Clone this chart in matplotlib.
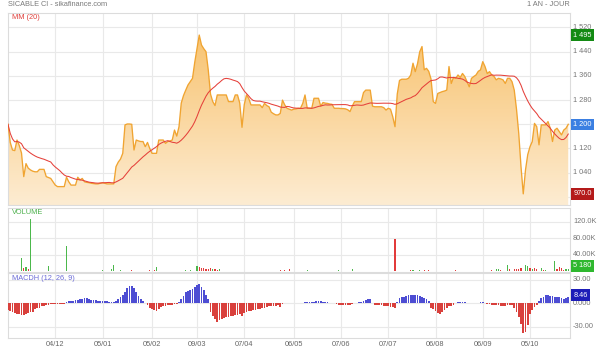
import numpy as np
import matplotlib
matplotlib.use('Agg')
import matplotlib.pyplot as plt
from matplotlib.patches import PathPatch
import pandas as pd

plt.rcParams['font.family'] = ['Liberation Sans', 'DejaVu Sans']

# ---------------- data ----------------
price = [
    1200, 1140, 1115, 1113, 1148, 1130, 1105, 1027, 1070, 1055,
    1049, 1045, 1043, 1043, 1051, 1051, 1051, 1027, 1024, 1021,
    1010, 999, 994, 994, 994, 994, 1025, 1010, 999, 999,
    999, 1025, 1016, 1021, 1010, 1008, 1007, 1005, 1004, 1003,
    1003, 1005, 1007, 1005, 1003, 1003, 1003, 1003, 1060, 1075,
    1085, 1104, 1198, 1201, 1201, 1200, 1115, 1148, 1145, 1143,
    1143, 1126, 1140, 1120, 1104, 1104, 1104, 1148, 1148, 1148,
    1137, 1143, 1145, 1148, 1181, 1161, 1192, 1270, 1295, 1313,
    1330, 1341, 1352, 1405, 1450, 1495, 1462, 1450, 1440, 1380,
    1300, 1275, 1262, 1297, 1297, 1297, 1297, 1297, 1275, 1275,
    1275, 1297, 1297, 1270, 1190, 1265, 1297, 1285, 1264, 1264,
    1264, 1264, 1264, 1255, 1269, 1262, 1258, 1240, 1235, 1231,
    1231, 1236, 1280, 1264, 1253, 1250, 1247, 1250, 1251, 1253,
    1253, 1269, 1297, 1253, 1253, 1253, 1286, 1286, 1286, 1260,
    1272, 1270, 1269, 1267, 1266, 1253, 1253, 1253, 1252, 1252,
    1251, 1248, 1242, 1260, 1275, 1275, 1275, 1275, 1305, 1313,
    1313, 1313, 1260, 1258, 1258, 1258, 1258, 1255, 1247, 1253,
    1250, 1225, 1192, 1300, 1345, 1349, 1349, 1349, 1352, 1363,
    1402, 1374, 1400, 1440, 1457, 1380, 1385, 1375, 1350, 1275,
    1269, 1302, 1305, 1308, 1310, 1313, 1391, 1335, 1355, 1352,
    1363, 1355, 1368, 1358, 1341, 1324, 1352, 1358, 1363, 1375,
    1380, 1407, 1391, 1368, 1374, 1363, 1358, 1347, 1352, 1350,
    1347, 1335, 1352, 1352, 1341, 1313, 1250, 1170, 1060, 970,
    1049, 1100, 1126, 1143, 1203, 1192, 1132, 1198, 1198, 1198,
    1209, 1187, 1143, 1181, 1187, 1176, 1165, 1181, 1187, 1200,
]

macdh = [
    -8.6, -10, -11.5, -12.9, -13.4, -13.7, -15, -15, -14.2, -12.9,
    -11.8, -10.7, -7.7, -6.5, -5.6, -3.9, -3, -2.6, -1.7, -1.5,
    -1.3, -0.6, -0.5, -0.4, -0.3, -0.3, 2.1, 2.5, 2.8, 3,
    3.6, 4.5, 5.1, 6, 6.6, 6.9, 5.8, 4.8, 4.3, 3.8,
    3.5, 3.2, 3, 2.8, 2.6, 2.2, 1.8, 1.8, 3.4, 5.5,
    8.5, 10.7, 14, 19.3, 22.3, 22, 20, 15, 9.5, 6,
    3.4, 1, -2.5, -5.6, -7.2, -8.8, -9.9, -7.5, -5, -3.4,
    -3.2, -2.8, -2.5, -1.9, -0.9, -0.4, 2, 5, 10, 14,
    15.5, 17, 18.5, 20.5, 23, 24.9, 21, 17, 11, 5,
    -11, -16, -20, -23.6, -22, -20.5, -19.3, -18, -17.5, -17,
    -16.3, -15.5, -14.5, -13.7, -16.3, -12.5, -11, -10, -9.4, -8.8,
    -8.2, -7.7, -6.8, -6.2, -5.6, -4.6, -3.9, -3.4, -3.1, -2.9,
    -2.6, -4.3, -0.9, 0.9, 0.9, 0.9, 0.9, 0.9, 0.9, 0.9,
    0.9, 0.9, 1.3, 1.3, 1.5, 1.8, 2.1, 2.5, 3, 2.6,
    2.1, 1.7, 1.3, 0.4, 0.2, 0.1, -0.5, -1.7, -1.7, -1.7,
    -1.7, -1.7, -1.7, -0.9, 0.5, 0.9, 1.7, 2.2, 2.6, 4.5,
    5.5, 6, 1, -2.1, -2.3, -2.6, -2.8, -3.1, -3.4, -3.8,
    -4.3, -5, -6.4, 2.1, 6.4, 7.5, 8.6, 9.9, 10.1, 10.3,
    10.3, 10.5, 10.7, 9.9, 7.7, 6.4, 5, 3, -6.4, -8,
    -10, -12.5, -13.7, -11, -9, -6.4, -4, -3, -2, 0.9,
    1.3, 1.8, 2.1, 1.7, 1, 0.4, 0.1, 0.1, 0.1, 0.5,
    1.8, 1.5, 0.5, -0.5, -1.5, -1.8, -2.2, -2.6, -2.8, -3,
    -3.2, -3, -2.6, -2.2, -2.1, -6.4, -10.7, -18, -27, -38.6,
    -37, -28, -14, -8.6, -5, -2.1, 2.5, 6.4, 8.6, 10.3,
    10.7, 10, 9, 8.6, 8, 7.5, 7, 6, 7, 8.46,
]

# sparse volume: session index, volume (thousands), up-day flag
vol_day = [6, 7, 8, 9, 10, 18, 26, 33, 36, 38, 40, 42, 44, 46, 47, 50, 55, 59, 62, 63,
           65, 66, 70, 73, 76, 79, 81, 84, 85, 86, 87, 88, 89, 90, 91, 92, 93, 94, 98, 102,
           106, 110, 116, 119, 121, 123, 125, 127, 133, 138, 142, 146, 147, 150, 153, 155, 156, 162, 164, 170,
           172, 173, 174, 178, 179, 180, 183, 185, 187, 189, 193, 195, 197, 199, 201, 203, 205, 207, 211, 215,
           217, 218, 219, 222, 223, 225, 226, 227, 228, 230, 231, 232, 233, 234, 235, 237, 238, 239, 243, 244,
           245, 246, 247, 248, 249]
vol_k = [30.7, 6.5, 9, 4, 125, 12, 61, 1, 0.8, 1, 0.8, 2, 1, 5, 14.5, 1.5, 2, 1, 1.2, 3,
         2, 9.5, 0.8, 0.6, 1, 1.5, 1.5, 12, 10, 8, 8, 6, 6, 7, 4, 4, 3, 6, 1, 0.8,
         1, 0.6, 0.7, 1, 1.5, 1.5, 5.6, 1, 3, 0.8, 0.8, 1, 1.5, 0.8, 5.6, 1, 1, 0.8, 1, 0.8,
         77, 1, 1.2, 1, 1.5, 1.5, 3, 1.5, 1.5, 1, 1.2, 1, 1, 1.5, 1, 1.2, 1, 0.8, 0.8, 1.5,
         4, 5, 1.5, 13.7, 4.5, 4, 5, 4, 7, 13.7, 12, 8, 5.6, 6.5, 4, 6.5, 3, 3, 24, 5.6,
         10, 8, 3, 4, 5.18]
vol_up = [1, 0, 1, 0, 1, 1, 1, 1, 0, 1, 0, 1, 0, 1, 1, 1, 0, 0, 1, 0,
          0, 1, 1, 1, 1, 1, 1, 1, 0, 0, 0, 0, 0, 0, 1, 0, 0, 1, 0, 1,
          0, 0, 1, 0, 0, 0, 0, 1, 1, 0, 1, 1, 1, 0, 1, 0, 1, 0, 1, 0,
          0, 1, 1, 1, 0, 1, 1, 0, 0, 0, 1, 0, 1, 0, 1, 0, 1, 0, 1, 0,
          1, 1, 0, 1, 0, 0, 0, 0, 0, 1, 1, 0, 1, 0, 0, 1, 0, 1, 1, 0,
          0, 0, 0, 1, 1]

tick_index = [21, 42, 64, 84, 105, 127, 148, 169, 190, 211, 232]
tick_labels = ['04/12', '05/01', '05/02', '09/03', '07/04', '06/05',
               '07/06', '07/07', '06/08', '06/09', '05/10']
price_ticks = [1520, 1440, 1360, 1280, 1200, 1120, 1040, 960]
vol_ticks = [40000, 80000, 120000]
vol_tick_labels = ['40.00K', '80.00K', '120.0K']
macd_ticks = [-30, 0, 30]
macd_tick_labels = ['-30.00', '0.000', '30.00']

# ---------------- layout ----------------
N = len(price)
x = np.arange(N)
ma = pd.Series(price).rolling(20, min_periods=1).mean()

W, H = 600, 351
fig = plt.figure(figsize=(W / 100, H / 100), dpi=100)
fig.patch.set_facecolor('white')

def ax_at(x0, y0, x1, y1):
    return fig.add_axes([x0 / W, 1 - y1 / H, (x1 - x0) / W, (y1 - y0) / H])

ax_p = ax_at(8, 12.7, 570, 205)
ax_v = ax_at(8, 207.5, 570, 271.7)
ax_m = ax_at(8, 273.3, 570, 338)

FS = 5.3
GRID = '#e9e9e9'
LBL = '#777777'
XMAX = (570 - 8) / 2.25

for ax in (ax_p, ax_v, ax_m):
    ax.set_xlim(0, XMAX)
    for s in ax.spines.values():
        s.set_color('#dcdcdc')
        s.set_linewidth(0.8)
    ax.tick_params(left=False, right=False, bottom=False, top=False,
                   labelleft=False, labelbottom=False)
    for t in tick_index:
        ax.axvline(t, color=GRID, lw=0.8, zorder=0)

# ---- price panel ----
P_LO, P_HI = 933.2, 1568.9
ax_p.set_ylim(P_LO, P_HI)
for t in price_ticks:
    ax_p.axhline(t, color=GRID, lw=0.8, zorder=0)

poly = ax_p.fill_between(x, price, P_LO, facecolor='none', edgecolor='none')
path = poly.get_paths()[0]
patch = PathPatch(path, transform=ax_p.transData, facecolor='none', edgecolor='none')
ax_p.add_patch(patch)
top_c = np.array([247, 190, 100]) / 255
bot_c = np.array([253, 236, 210]) / 255
g = np.linspace(0, 1, 256)[:, None]
grad = bot_c[None, :] * (1 - g) + top_c[None, :] * g
grad = np.repeat(grad[:, None, :], 2, axis=1)
im = ax_p.imshow(grad, extent=[0, XMAX, P_LO, P_HI], origin='lower',
                 aspect='auto', zorder=1, interpolation='bilinear')
im.set_clip_path(patch)
ax_p.set_xlim(0, XMAX)
ax_p.set_ylim(P_LO, P_HI)

ax_p.plot(x, price, color='#f0a431', lw=0.95, zorder=3, solid_joinstyle='round')
ax_p.plot(x, ma, color='#e5403a', lw=0.75, zorder=4)

def fmt_thousands(v):
    return f'{v:,.0f}'.replace(',', ' ')

tag_vals = [max(price), price[-1], min(price)]
px_per_unit = (205 - 12.7) / (P_HI - P_LO)
ytr = ax_p.get_yaxis_transform()
for t in price_ticks:
    if min(abs(t - tv) for tv in tag_vals) * px_per_unit < 7:
        continue
    ax_p.text(1.0053, t, fmt_thousands(t), transform=ytr, fontsize=FS,
              color=LBL, va='center', ha='left', clip_on=False)

def tag(ax, y, text, color, transform=None):
    ax.text(1.0062, y, text, transform=transform or ax.get_yaxis_transform(), fontsize=FS,
            color='white', va='center', ha='left', clip_on=False, zorder=10,
            bbox=dict(boxstyle='square,pad=0.3', fc=color, ec='none'))

tag(ax_p, max(price), fmt_thousands(max(price)), '#138a13')
tag(ax_p, price[-1], fmt_thousands(price[-1]), '#3b7fe2')
tag(ax_p, min(price), f'{min(price):.1f}', '#b41a1a')

# ---- volume panel ----
ax_v.set_ylim(-1500, 154000)
for t in vol_ticks:
    ax_v.axhline(t, color=GRID, lw=0.8, zorder=0)
vol_vals = np.array(vol_k) * 1000
vol_cols = ['#4cb84c' if u else '#e23b3b' for u in vol_up]
ax_v.bar(vol_day, vol_vals, width=0.55, color=vol_cols, zorder=3)
for t, l in zip(vol_ticks, vol_tick_labels):
    ax_v.text(1.0053, t, l, transform=ax_v.get_yaxis_transform(), fontsize=FS,
              color=LBL, va='center', ha='left', clip_on=False)
tag(ax_v, 0.09, fmt_thousands(vol_vals[-1]), '#2fb82f', transform=ax_v.transAxes)

# ---- MACD panel ----
ax_m.set_ylim(-44.7, 38.6)
for t in macd_ticks:
    ax_m.axhline(t, color=GRID, lw=0.8, zorder=0)
mcols = ['#4d4dd3' if v >= 0 else '#d9403c' for v in macdh]
ax_m.bar(x, macdh, width=0.68, color=mcols, zorder=3)
for t, l in zip(macd_ticks, macd_tick_labels):
    ax_m.text(1.0053, t, l, transform=ax_m.get_yaxis_transform(), fontsize=FS,
              color=LBL, va='center', ha='left', clip_on=False)
tag(ax_m, macdh[-1] + 2, f'{macdh[-1]:.2f}', '#1d1db8')

# date labels under the MACD panel
lab_tr = matplotlib.transforms.blended_transform_factory(ax_m.transData, fig.transFigure)
for t, l in zip(tick_index, tick_labels):
    ax_m.text(t, 1 - 344 / H, l, transform=lab_tr, fontsize=FS, color='#666666',
              va='center', ha='center', clip_on=False)

# ---- titles ----
fig.text(8 / W, 1 - 5 / H, 'SICABLE CI - sikafinance.com', fontsize=FS, color='#7a7a7a',
         va='center', ha='left')
fig.text(570 / W, 1 - 5 / H, '1 AN - JOUR', fontsize=FS, color='#7a7a7a',
         va='center', ha='right')
fig.text(11.7 / W, 1 - 17.5 / H, 'MM (20)', fontsize=FS, color='#e0403c', va='center', ha='left')
fig.text(11.7 / W, 1 - 213 / H, 'VOLUME', fontsize=FS, color='#4cb04c', va='center', ha='left')
fig.text(11.7 / W, 1 - 278.5 / H, 'MACDH (12, 26, 9)', fontsize=FS, color='#6b6bd6',
         va='center', ha='left')

fig.savefig('out.png', dpi=100, facecolor='white')
